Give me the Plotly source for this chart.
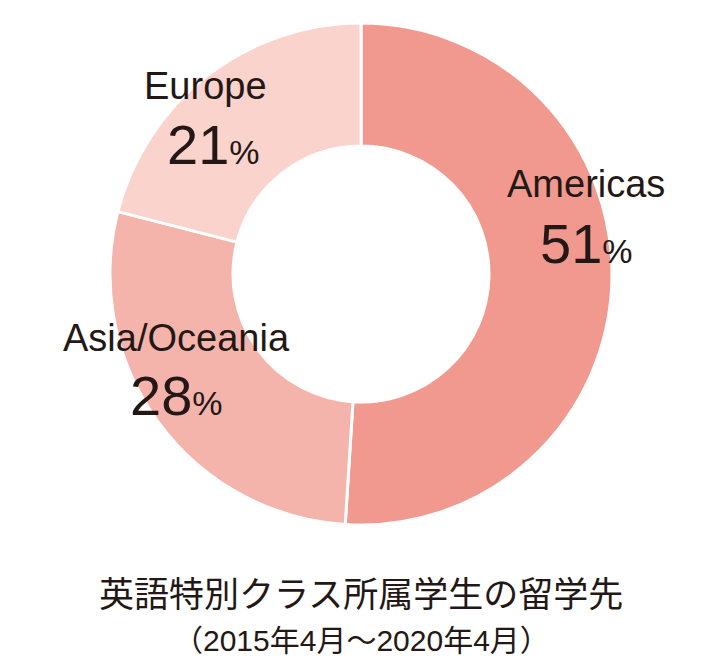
import plotly.graph_objects as go

# Data
regions = ["Americas", "Asia/Oceania", "Europe"]
shares = [51, 28, 21]
slice_colors = ["#F1998F", "#F5B4AB", "#FAD3CC"]
title_text = "英語特別クラス所属学生の留学先"
subtitle_text = "（2015年4月～2020年4月）"

W, H = 720, 670
OFF = 8  # page body margin offset in the browser
TXT = "#231815"
LATIN = "Liberation Sans, Arial, sans-serif"
CJK = "Noto Sans CJK JP, sans-serif"


def px_x(x):
    return (x - OFF) / W


def px_y(y):
    return 1 - (y - OFF) / H


fig = go.Figure(go.Pie(
    labels=regions,
    values=shares,
    hole=0.51,
    sort=False,
    direction="clockwise",
    rotation=0,
    marker=dict(colors=slice_colors, line=dict(color="white", width=3)),
    textinfo="none",
    hoverinfo="label+percent",
    showlegend=False,
    domain=dict(x=[px_x(110), px_x(612)], y=[px_y(525), px_y(23)]),
))

# label positions (pixel centres) for each region: (name x, name y, pct x, pct y)
label_pos = {
    "Americas": (586, 184, 586, 244),
    "Asia/Oceania": (176, 338, 176, 395),
    "Europe": (205, 86, 213, 144),
}

annotations = []
for name, val in zip(regions, shares):
    nx, ny, px, py = label_pos[name]
    annotations.append(dict(
        x=px_x(nx), y=px_y(ny), xref="paper", yref="paper",
        text=name, showarrow=False, xanchor="center", yanchor="middle",
        font=dict(family=LATIN, size=38, color=TXT),
    ))
    annotations.append(dict(
        x=px_x(px), y=px_y(py), xref="paper", yref="paper",
        text=f"<span style='font-size:56px'>{val}</span><span style='font-size:34px'>%</span>",
        showarrow=False, xanchor="center", yanchor="middle",
        font=dict(family=LATIN, size=56, color=TXT),
    ))

annotations.append(dict(
    x=px_x(361), y=px_y(591), xref="paper", yref="paper",
    text=title_text, showarrow=False, xanchor="center", yanchor="middle",
    font=dict(family=CJK, size=35, color=TXT),
))
annotations.append(dict(
    x=px_x(361), y=px_y(640), xref="paper", yref="paper",
    text=subtitle_text, showarrow=False, xanchor="center", yanchor="middle",
    font=dict(family="Liberation Sans, Noto Sans CJK JP, sans-serif", size=30, color=TXT),
))

fig.update_layout(
    width=W, height=H,
    margin=dict(l=0, r=0, t=0, b=0),
    paper_bgcolor="white", plot_bgcolor="white",
    annotations=annotations,
)

fig.write_html("out.html")
